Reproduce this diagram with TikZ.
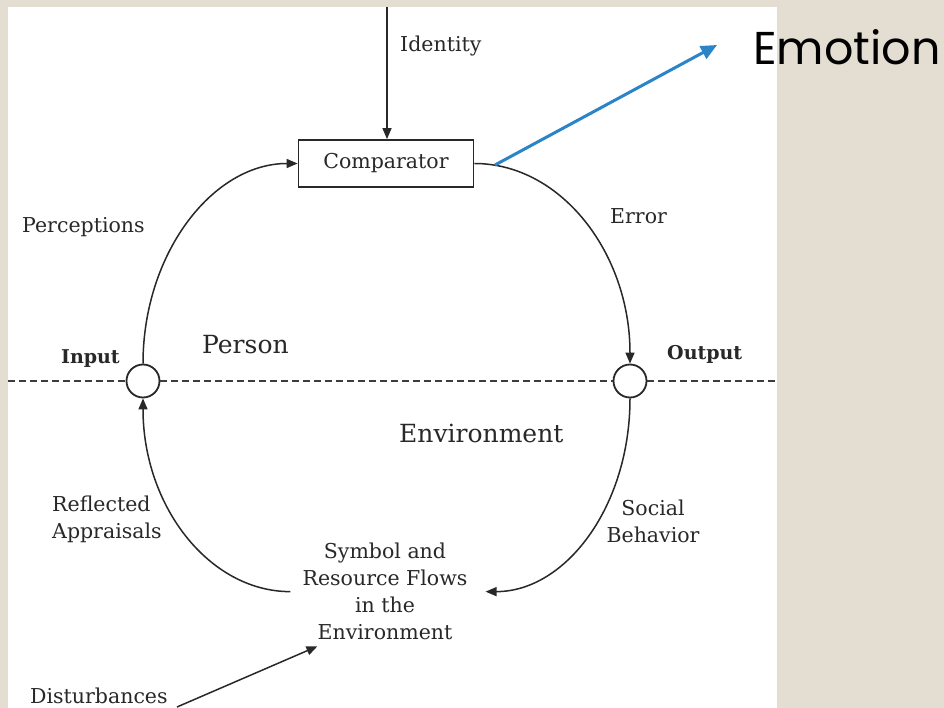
\documentclass[tikz,border=0pt]{standalone}
\usepackage{fontspec}
\setmainfont{DejaVu Serif}
\newfontfamily\emofont{Poppins}
\usetikzlibrary{arrows.meta}

\definecolor{paper}{RGB}{227,221,210}
\definecolor{ink}{RGB}{40,40,40}
\definecolor{emoblue}{RGB}{42,132,200}

\tikzset{
	flow/.style={-{Triangle[length=11pt,width=9pt]}, line width=1.5pt, draw=ink},
	junction/.style={circle, draw=ink, line width=1.8pt, fill=white, minimum size=33pt, inner sep=0pt},
	divider/.style={draw=ink!90, line width=1.8pt, dash pattern=on 7pt off 4pt},
	txt/.style={inner sep=0pt, text=ink, font=\fontsize{20.5}{27}\selectfont},
	bigtxt/.style={txt, font=\fontsize{25}{30}\selectfont},
	io/.style={txt, font=\fontsize{19}{24}\selectfont\bfseries},
	emo/.style={-{Triangle[length=16pt,width=14pt]}, line width=3pt, draw=emoblue}
}

\begin{document}
\begin{tikzpicture}[x=1pt, y=-1pt]
	% page and white sheet
	\useasboundingbox (0,0) rectangle (944,708);
	\fill[paper] (0,0) rectangle (944,708);
	\fill[white] (8,7) rectangle (777,708);
	
	\coordinate (idtop) at (387,7);
	\coordinate (lineL) at (8,381);
	\coordinate (lineR) at (777,381);
	
	\node[txt, draw=ink, line width=1.8pt, fill=white, minimum width=175pt, minimum height=47pt] (comparator) at (386,163.5) {Comparator};
	\node[junction] (input) at (143,381) {};
	\node[junction] (output) at (630,381) {};
	\node[txt, anchor=north, align=center] (flows) at (385,543) {Symbol and\\Resource Flows\\in the\\Environment};
	
	% person / environment border
	\draw[divider] (lineL) -- (input.west);
	\draw[divider] (input.east) -- (output.west);
	\draw[divider] (output.east) -- (lineR);
	
	% labels
	\node[txt, anchor=base west] (identity) at (400,52) {Identity};
	\node[txt, anchor=base west] (perceptions) at (22,233) {Perceptions};
	\node[txt, anchor=base west] (error) at (610,224) {Error};
	\node[io, anchor=base west] (inlabel) at (61,363) {Input};
	\node[io, anchor=base west] (outlabel) at (667,359) {Output};
	\node[bigtxt, anchor=base west] (person) at (202,353) {Person};
	\node[bigtxt, anchor=base west] (environment) at (399,442) {Environment};
	\node[txt, anchor=north west, align=left] (reflected) at (52,496) {Reflected\\Appraisals};
	\node[txt, anchor=north, align=center] (social) at (653,500) {Social\\Behavior};
	\node[txt, anchor=base west] (disturb) at (30,703) {Disturbances};
	
	% the loop
	\draw[flow] (idtop) -- (idtop |- comparator.north);
	\draw[flow] (input.north) .. controls +(0,-110) and +(-85,0) .. (comparator.west);
	\draw[flow] (comparator.east) .. controls +(87,0) and +(0,-110) .. (output.north);
	\draw[flow] (output.south) .. controls +(0,108) and +(80,0) .. ([xshift=18pt]flows.east);
	\draw[flow] ([xshift=-12pt]flows.west) .. controls +(-81,0) and +(0,108) .. (input.south);
	
	\coordinate (distfrom) at (177,707);
	\draw[flow] (distfrom) -- ([shift={(15pt,-6pt)}]flows.south west);
	
	% emotion
	\node[inner sep=0pt, anchor=base west, font=\emofont\fontsize{46}{50}\selectfont] (emotion) at (753,65) {Emotion};
	\coordinate (emofrom) at (495,165);
	\coordinate (emotip) at (717,45);
	\draw[emo] (emofrom) -- (emotip);
\end{tikzpicture}
\end{document}
